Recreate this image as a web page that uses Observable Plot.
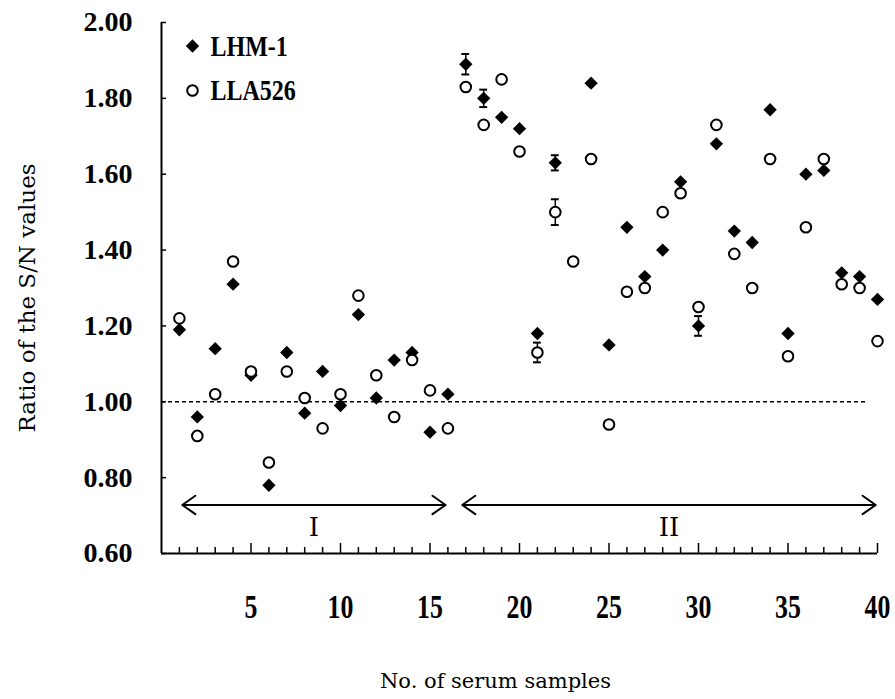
<!DOCTYPE html>
<html>
<head>
<meta charset="utf-8">
<script src="https://cdn.jsdelivr.net/npm/d3@7"></script>
<script src="https://cdn.jsdelivr.net/npm/@observablehq/plot@0.6"></script>
<style>
  html, body { margin: 0; padding: 0; background: #fff; }
  #chart { width: 895px; height: 699px; }
  #chart [aria-label^="x-axis"] text { font: bold 34px 'Liberation Serif', 'Times New Roman', serif; fill: #000; }
  #chart [aria-label^="y-axis"] text { font: bold 28px 'Liberation Serif', 'Times New Roman', serif; fill: #000; }
</style>
</head>
<body>
<div id="chart"></div>
<script>
// ---- data ----
const samples = [1,2,3,4,5,6,7,8,9,10,11,12,13,14,15,16,17,18,19,20,
                 21,22,23,24,25,26,27,28,29,30,31,32,33,34,35,36,37,38,39,40];
const lhm1 = [1.19,0.96,1.14,1.31,1.07,0.78,1.13,0.97,1.08,0.99,
              1.23,1.01,1.11,1.13,0.92,1.02,1.89,1.80,1.75,1.72,
              1.18,1.63,null,1.84,1.15,1.46,1.33,1.40,1.58,1.20,
              1.68,1.45,1.42,1.77,1.18,1.60,1.61,1.34,1.33,1.27];
const lla526 = [1.22,0.91,1.02,1.37,1.08,0.84,1.08,1.01,0.93,1.02,
                1.28,1.07,0.96,1.11,1.03,0.93,1.83,1.73,1.85,1.66,
                1.13,1.50,1.37,1.64,0.94,1.29,1.30,1.50,1.55,1.25,
                1.73,1.39,1.30,1.64,1.12,1.46,1.64,1.31,1.30,1.16];
// error bars: [sample, half-range]
const lhm1Err = [[17,0.027],[18,0.023],[22,0.02],[30,0.026]];
const lla526Err = [[21,0.026],[22,0.034]];
const seriesNames = ["LHM-1", "LLA526"];
const xTicks = [5,10,15,20,25,30,35,40];
const xMinorTicks = [1,2,3,4,6,7,8,9,11,12,13,14,16,17,18,19,21,22,23,24,26,27,28,29,31,32,33,34,36,37,38,39];
const yTicks = [0.6,0.8,1.0,1.2,1.4,1.6,1.8,2.0];
const baseline = [1.0];
const groupLabels = ["I", "II"];
const groupStart = [1.16, 16.8];
const groupEnd = [15.87, 39.9];
const groupArrowY = 0.728;
const groupLabelY = 0.669;
const xTitle = "No. of serum samples";
const yTitle = "Ratio of the S/N values";

// ---- layout ----
const W = 895, H = 699, mL = 161, mR = 18, mT = 22, mB = 146;
const plotW = W - mL - mR, plotH = H - mT - mB;
const serif = "'Liberation Serif', 'Times New Roman', serif";
const titleFont = "'DejaVu Serif', serif";

const rows = samples.map((s, i) => ({s, lhm: lhm1[i], lla: lla526[i]}));
const lhmRows = rows.filter(d => d.lhm != null);
const llaRows = rows.filter(d => d.lla != null);
const errRows = [
  ...lhm1Err.map(([s, e]) => ({s, v: lhm1[s - 1], e})),
  ...lla526Err.map(([s, e]) => ({s, v: lla526[s - 1], e}))
];
const capRows = errRows.flatMap(d => [{s: d.s, y: d.v - d.e}, {s: d.s, y: d.v + d.e}]);
const capHalf = 0.22;
const groups = groupLabels.map((label, i) => ({label, a: groupStart[i], b: groupEnd[i], mid: (groupStart[i] + groupEnd[i]) / 2}));
const arrowSegs = groups.flatMap(g => [{x1: g.mid, x2: g.a}, {x1: g.mid, x2: g.b}]);

const chart = Plot.plot({
  width: W, height: H,
  marginLeft: mL, marginRight: mR, marginTop: mT, marginBottom: mB,
  style: {background: "white", color: "black", fontFamily: serif},
  x: {domain: [0, 40], ticks: xTicks, tickSize: 0, tickPadding: 40, tickFormat: d => String(d), label: null, line: false},
  y: {domain: [0.6, 2.0], ticks: yTicks, tickSize: 0, tickPadding: 29, tickFormat: d3.format(".2f"), label: null, line: false},
  marks: [
    // axis lines and inward ticks
    Plot.ruleX(xMinorTicks, {stroke: "black", strokeWidth: 1.5, insetTop: plotH - 6}),
    Plot.ruleX(xTicks, {stroke: "black", strokeWidth: 1.5, insetTop: plotH - 10}),
    Plot.ruleY(yTicks, {stroke: "black", strokeWidth: 1.5, insetRight: plotW - 5}),
    Plot.ruleX([0], {stroke: "black", strokeWidth: 2}),
    Plot.ruleY([0.6], {stroke: "black", strokeWidth: 2}),
    // reference line
    Plot.ruleY(baseline, {x1: 0, x2: 39.5, stroke: "black", strokeWidth: 1.5, strokeDasharray: "4,3"}),
    // group arrows
    Plot.arrow(arrowSegs, {x1: "x1", x2: "x2", y1: groupArrowY, y2: groupArrowY, stroke: "black", strokeWidth: 2, headAngle: 70, headLength: 12}),
    Plot.text(groups, {x: "mid", y: groupLabelY, text: "label", fontFamily: titleFont, fontSize: 26, fill: "black"}),
    // error bars
    Plot.ruleX(errRows, {x: "s", y1: d => d.v - d.e, y2: d => d.v + d.e, stroke: "black", strokeWidth: 1.5}),
    Plot.ruleY(capRows, {y: "y", x1: d => d.s - capHalf, x2: d => d.s + capHalf, stroke: "black", strokeWidth: 2}),
    // points
    Plot.dot(lhmRows, {x: "s", y: "lhm", symbol: "diamond2", r: 6, fill: "black", stroke: "none"}),
    Plot.dot(llaRows, {x: "s", y: "lla", symbol: "circle", r: 5.3, fill: "white", stroke: "black", strokeWidth: 2}),
    // legend
    Plot.dot([seriesNames[0]], {x: null, y: null, frameAnchor: "top-left", dx: 31, dy: 23.5, symbol: "diamond2", r: 6, fill: "black"}),
    Plot.dot([seriesNames[1]], {x: null, y: null, frameAnchor: "top-left", dx: 31, dy: 68, symbol: "circle", r: 5.3, fill: "white", stroke: "black", strokeWidth: 2}),
    Plot.text([seriesNames[0]], {frameAnchor: "top-left", dx: 49, dy: 24, text: d => d, textAnchor: "start", lineAnchor: "middle", fontFamily: serif, fontWeight: "bold", fontSize: 30, fill: "black"}),
    Plot.text([seriesNames[1]], {frameAnchor: "top-left", dx: 49, dy: 68, text: d => d, textAnchor: "start", lineAnchor: "middle", fontFamily: serif, fontWeight: "bold", fontSize: 30, fill: "black"}),
    // axis titles
    Plot.text([xTitle], {frameAnchor: "bottom", dx: -24, dy: 128, text: d => d, textAnchor: "middle", lineAnchor: "middle", fontFamily: titleFont, fontSize: 21, fill: "black"}),
    Plot.text([yTitle], {frameAnchor: "left", dx: -134, dy: 10, rotate: -90, text: d => d, textAnchor: "middle", lineAnchor: "middle", fontFamily: titleFont, fontSize: 23, fill: "black"})
  ]
});

document.getElementById("chart").append(chart);

function condenseEl(el, k) {
  const w = el.getComputedTextLength();
  if (w > 0) {
    el.setAttribute("textLength", w * k);
    el.setAttribute("lengthAdjust", "spacingAndGlyphs");
  }
}
d3.select(chart).selectAll('[aria-label^="x-axis"] text').each(function () { condenseEl(this, 0.76); });
d3.select(chart).selectAll("text").filter(function () { return seriesNames.includes(this.textContent); })
  .each(function () { condenseEl(this, 0.8); });
</script>
</body>
</html>
